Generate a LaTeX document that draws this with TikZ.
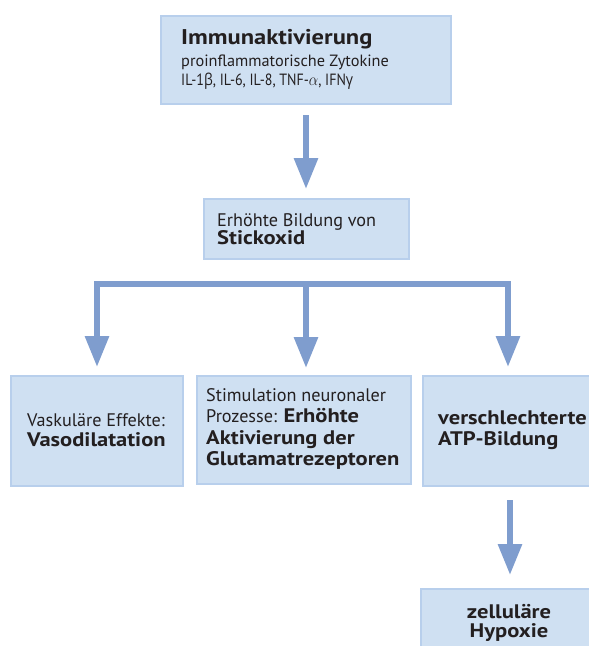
\documentclass[tikz,border=0pt]{standalone}
\usepackage{fontspec}
\usepackage{graphicx}
\setmainfont{PT Sans}[BoldFeatures={FakeStretch=1.15}]
\newfontfamily\grk{Open Sans}
\usetikzlibrary{arrows.meta}
\definecolor{boxfill}{RGB}{207,224,242}
\definecolor{boxline}{RGB}{184,207,236}
\definecolor{arrowc}{RGB}{127,157,206}
\definecolor{txt}{RGB}{35,31,32}
\newcommand{\bigb}[1]{{\fontsize{19.6}{21.5}\selectfont\bfseries #1}}
\begin{document}
\begin{tikzpicture}[x=1pt,y=-1pt,
  box/.style={draw=boxline, fill=boxfill, line width=2pt, anchor=north west, inner sep=0pt},
  lbl/.style={align=left, inner sep=0pt, text=txt, font=\fontsize{18.2}{21.5}\selectfont},
  toplbl/.style={align=left, inner sep=0pt, text=txt, font=\fontsize{16.3}{21.5}\selectfont},
  arr/.style={draw=arrowc, line width=6pt, -{Triangle[width=23pt,length=31pt]}},
  arrboth/.style={draw=arrowc, line width=6pt, {Triangle[width=23pt,length=31pt]}-{Triangle[width=23pt,length=31pt]}}]
\useasboundingbox (0,0) rectangle (589,646);
\clip (0,0) rectangle (589,646);
% boxes
\node[box, minimum width=290pt, minimum height=88pt] (immun) at (160,15) {};
\node[box, minimum width=205pt, minimum height=60pt] (stick) at (203,198) {};
\node[box, minimum width=172pt, minimum height=110pt] (vasc) at (10,375) {};
\node[box, minimum width=214pt, minimum height=108pt] (neuro) at (196,375) {};
\node[box, minimum width=176pt, minimum height=110pt] (atp) at (422,375) {};
\node[box, minimum width=178pt, minimum height=80pt] (hyp) at (420,588) {};
% texts
\node[toplbl, anchor=west] (timmun) at (181,59) {{\fontsize{21.3}{22}\selectfont\bfseries Immunaktivierung}\\[0.5pt]
  proinflammatorische Zytokine\\[-2.5pt]
  \scalebox{0.86}[1]{IL-1{\grk β}, IL-6, IL-8, TNF-$\alpha$, IFN{\grk γ}}};
\node[lbl, anchor=west] (tstick) at (217,229) {Erhöhte Bildung von\\[-3pt]\bigb{Stickoxid}};
\node[lbl, anchor=west] (tvasc) at (27,430) {Vaskuläre Effekte:\\[-1pt]\bigb{Vasodilatation}};
\node[lbl, anchor=west] (tneuro) at (206,429) {Stimulation neuronaler\\Prozesse: \bigb{Erhöhte}\\\bigb{Aktivierung der}\\\bigb{Glutamatrezeptoren}};
\node[lbl, anchor=west] (tatp) at (438,430) {\bigb{verschlechterte}\\\bigb{ATP-Bildung}};
\node[lbl, align=center, anchor=center] (thyp) at (509,623) {\bigb{zelluläre}\\[-2pt]\bigb{Hypoxie}};
% connectors
\draw[arr, shorten <=10pt, shorten >=9pt] (immun.south) -- (immun.south |- stick.north);
\coordinate (bl) at (97,284);
\coordinate (br) at (508,284);
\coordinate (bm) at (306,281);
\coordinate (tipL) at (97,367);
\coordinate (tipM) at (306,368);
\coordinate (tipR) at (508,367);
\draw[arrboth] (tipL) |- (br) -- (tipR);
\draw[arr] (bm) -- (tipM);
\draw[arr, shorten <=13pt, shorten >=13pt] (atp.south -| hyp.north) -- (hyp.north);
\end{tikzpicture}
\end{document}
